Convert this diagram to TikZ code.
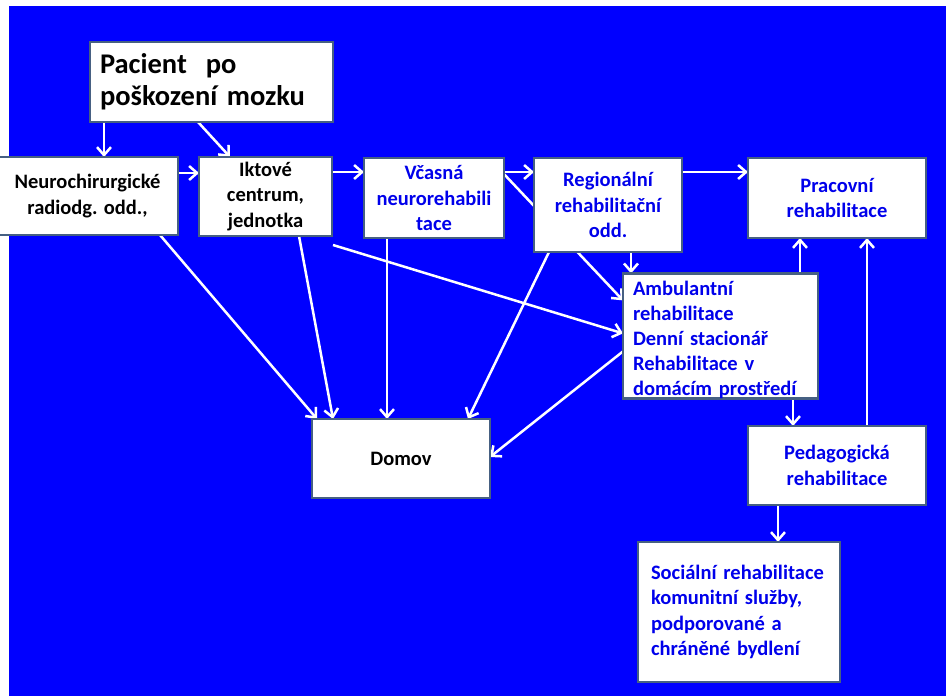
\documentclass[tikz,border=0pt]{standalone}
\usepackage{fontspec}
\setmainfont{Carlito}
\usetikzlibrary{arrows.meta,calc}
\definecolor{bgblue}{RGB}{0,0,255}
\definecolor{txtblue}{RGB}{0,0,235}
\definecolor{bordercol}{RGB}{70,96,130}
\pgfdeclarelayer{bg}\pgfdeclarelayer{edges}\pgfsetlayers{bg,edges,main}
\begin{document}
\begin{tikzpicture}[x=1pt,y=-1pt,
  box/.style={draw=bordercol,line width=2.5pt,fill=white,inner sep=0pt,outer sep=0pt,align=center,
    font=\fontsize{20.5}{25.5}\selectfont\bfseries},
  blk/.style={text=black},
  blu/.style={text=txtblue},
  conn/.style={draw=white,line width=2.5pt,-{Straight Barb[length=8pt,width=14pt]}}]
\useasboundingbox (0,0) rectangle (946,696);
\begin{pgfonlayer}{bg}
  \fill[white] (0,0) rectangle (946,696);
  \fill[bgblue] (9,6) rectangle (946,696);
\end{pgfonlayer}

\node[box,blk,align=left,text width=223pt,inner xsep=10pt,minimum width=243pt,minimum height=80pt,
  font=\fontsize{28.5}{32}\selectfont\bfseries] (pac) at (211.5,82) {Pacient\ \ po\\poškození mozku};
\node[box,blk,minimum width=181pt,minimum height=78pt] (neu) at (87.5,196) {Neurochirurgické\\radiodg. odd.,};
\node[box,blk,minimum width=133pt,minimum height=79pt] (ikt) at (265.5,196.5) {Iktové\\centrum,\\jednotka};
\node[box,blu,minimum width=140pt,minimum height=80pt] (vca) at (434,198) {Včasná\\neurorehabili\\tace};
\node[box,blu,minimum width=148pt,minimum height=94pt] (reg) at (608,205) {Regionální\\rehabilitační\\odd.};
\node[box,blu,minimum width=178pt,minimum height=80pt] (pra) at (837,198) {Pracovní\\rehabilitace};
\node[box,blu,align=left,text width=175pt,inner xsep=10pt,minimum width=195pt,minimum height=122pt,
  font=\fontsize{20.5}{25}\selectfont\bfseries] (amb) at (720.5,336)
  {\rule{0pt}{22pt}\mbox{Ambulantní}\\\mbox{rehabilitace}\\\mbox{Denní stacionář}\\\mbox{Rehabilitace v}\\\mbox{domácím prostředí}};
\node[box,blk,minimum width=178pt,minimum height=79pt] (dom) at (401,458.5) {Domov};
\node[box,blu,minimum width=178pt,minimum height=79pt] (ped) at (837,465.5) {Pedagogická\\rehabilitace};
\node[box,blu,align=left,text width=176pt,inner xsep=13pt,minimum width=202pt,minimum height=140pt] (soc) at (739,612)
  {\mbox{Sociální rehabilitace}\\\mbox{komunitní služby,}\\\mbox{podporované a}\\\mbox{chráněné bydlení}};

\begin{pgfonlayer}{edges}
  \draw[conn] ($(pac.south west)+(14,0)$) -- ($(neu.north west)+(107,0)$);
  \draw[conn] ($(pac.south west)+(108,0)$) -- ($(ikt.north west)+(31,0)$);
  \draw[conn] ($(neu.north east)+(0,16)$) -- ($(ikt.north west)+(0,16)$);
  \draw[conn] ($(ikt.north east)+(0,15)$) -- ($(vca.north west)+(0,14)$);
  \draw[conn] ($(vca.north east)+(0,14)$) -- ($(reg.north west)+(0,14)$);
  \draw[conn] ($(reg.north east)+(0,14)$) -- ($(pra.north west)+(0,14)$);
  \draw[conn] ($(vca.north east)+(-1,15)$) -- ($(amb.north west)+(0,27)$);
  \draw[conn] ($(reg.south west)+(97,0)$) -- ($(amb.north west)+(8,0)$);
  \draw[conn] ($(ikt.south east)+(1,9)$) -- ($(amb.north west)+(0,60)$);
  \draw[conn] ($(neu.south east)+(-18,0)$) -- ($(dom.north west)+(5,0)$);
  \draw[conn] ($(ikt.south west)+(100,0)$) -- ($(dom.north west)+(21,0)$);
  \draw[conn] ($(vca.south west)+(23,0)$) -- ($(dom.north west)+(75,0)$);
  \draw[conn] ($(reg.south west)+(15,0)$) -- ($(dom.north west)+(156,0)$);
  \draw[conn] ($(amb.north west)+(0,78)$) -- ($(dom.north east)+(0,38)$);
  \draw[conn] ($(amb.south west)+(170,0)$) -- ($(ped.north west)+(45,0)$);
  \draw[conn] ($(amb.north west)+(177,0)$) -- ($(pra.south west)+(52,0)$);
  \draw[conn] ($(ped.north west)+(119,0)$) -- ($(pra.south west)+(119,0)$);
  \draw[conn] ($(ped.south west)+(30,0)$) -- ($(soc.north west)+(140,0)$);
\end{pgfonlayer}
\end{tikzpicture}
\end{document}
